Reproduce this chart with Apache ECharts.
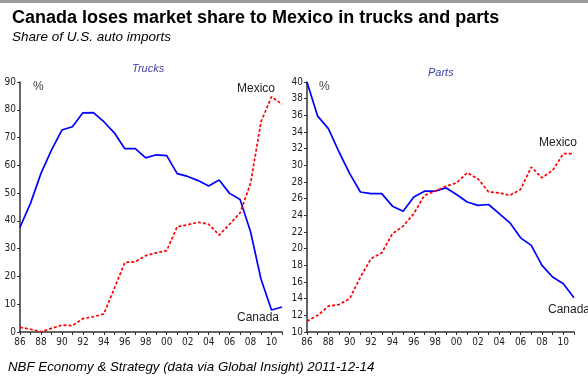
<!DOCTYPE html>
<html>
<head>
<meta charset="utf-8">
<script src="https://cdn.jsdelivr.net/npm/echarts@6/dist/echarts.min.js"></script>
<style>
  html, body { margin: 0; padding: 0; background: #fff; }
  #chart { width: 588px; height: 376px; }
</style>
</head>
<body>
<div id="chart"></div>
<script>
// Years 1986-2011, shown as two-digit labels
const years = ['86','87','88','89','90','91','92','93','94','95','96','97','98','99',
               '00','01','02','03','04','05','06','07','08','09','10','11'];

// Share of U.S. truck imports (%)
const trucksCanada = [37.7, 46.3, 57.1, 65.5, 72.7, 73.9, 78.9, 79.0, 75.7, 71.7, 66.0, 66.0, 62.7,
                      63.8, 63.5, 57.0, 56.0, 54.5, 52.6, 54.7, 49.9, 47.7, 36.1, 19.0, 7.9, 9.0];
const trucksMexico = [1.7, 1.0, 0.1, 1.3, 2.5, 2.3, 4.8, 5.5, 6.5, 15.7, 25.0, 25.3, 27.5,
                      28.5, 29.3, 37.9, 38.6, 39.5, 38.8, 34.9, 38.8, 42.9, 53.5, 75.7, 84.7, 82.0];

// Share of U.S. auto parts imports (%)
const partsCanada = [40.0, 35.9, 34.4, 31.6, 29.0, 26.8, 26.6, 26.6, 25.1, 24.5, 26.2, 26.9, 26.9,
                     27.3, 26.5, 25.6, 25.2, 25.3, 24.2, 23.1, 21.3, 20.4, 18.0, 16.6, 15.8, 14.1];
const partsMexico = [11.3, 12.0, 13.1, 13.3, 14.0, 16.6, 18.8, 19.5, 21.8, 22.7, 24.2, 26.4, 26.9,
                     27.5, 27.9, 29.1, 28.4, 26.8, 26.7, 26.4, 27.1, 29.8, 28.5, 29.4, 31.4, 31.4];

const tickFont = { fontFamily: 'Liberation Sans Narrow, DejaVu Sans Condensed, Liberation Sans, sans-serif', fontSize: 10, color: '#222' };
const axisLine = { show: true, lineStyle: { color: '#333', width: 1.5 } };

function xAxis(gridIndex) {
  return {
    type: 'category', gridIndex, data: years, boundaryGap: false,
    axisLine,
    axisTick: { show: true, interval: 0, length: 3, lineStyle: { color: '#333' } },
    axisLabel: Object.assign({ interval: 1, margin: 5 }, tickFont),
    splitLine: { show: false }
  };
}
function yAxis(gridIndex, min, max, interval) {
  return {
    type: 'value', gridIndex, min, max, interval,
    axisLine,
    axisTick: { show: true, length: 3, lineStyle: { color: '#333' } },
    axisLabel: Object.assign({ margin: 4 }, tickFont),
    splitLine: { show: false }
  };
}
function line(name, xi, data, color, dashed) {
  return {
    name, type: 'line', xAxisIndex: xi, yAxisIndex: xi, data,
    symbol: 'none', animation: false,
    lineStyle: { color, width: 1.7, type: dashed ? [3, 2] : 'solid' }
  };
}
function note(text, left, top, extra) {
  return { type: 'text', left, top, style: Object.assign({ text, fill: '#222', font: '12px Liberation Sans, Arial, sans-serif' }, extra || {}) };
}

const chart = echarts.init(document.getElementById('chart'), null, { renderer: 'canvas' });
chart.setOption({
  animation: false,
  backgroundColor: '#fff',
  grid: [
    { left: 20, top: 82, width: 262, height: 250 },
    { left: 307, top: 82, width: 267, height: 250 }
  ],
  xAxis: [xAxis(0), xAxis(1)],
  yAxis: [yAxis(0, 0, 90, 10), yAxis(1, 10, 40, 2)],
  series: [
    line('Canada', 0, trucksCanada, '#0000ff', false),
    line('Mexico', 0, trucksMexico, '#ff0000', true),
    line('Canada', 1, partsCanada, '#0000ff', false),
    line('Mexico', 1, partsMexico, '#ff0000', true)
  ],
  graphic: [
    { type: 'rect', left: 0, top: 0, shape: { width: 588, height: 3 }, style: { fill: '#999' } },
    { type: 'text', left: 12, top: 9, style: { text: 'Canada loses market share to Mexico in trucks and parts', fill: '#000', font: 'bold 18px Liberation Sans, Arial, sans-serif' } },
    { type: 'text', left: 12, top: 30, style: { text: 'Share of U.S. auto imports', fill: '#000', font: 'italic 13.5px Liberation Sans, Arial, sans-serif' } },
    { type: 'text', left: 132, top: 63, style: { text: 'Trucks', fill: '#4040a0', font: 'italic 11px Liberation Sans, Arial, sans-serif' } },
    { type: 'text', left: 428, top: 67, style: { text: 'Parts', fill: '#4040a0', font: 'italic 11px Liberation Sans, Arial, sans-serif' } },
    note('%', 33, 81, { fill: '#444' }),
    note('%', 319, 81, { fill: '#444' }),
    note('Mexico', 237, 83),
    note('Canada', 237, 312),
    note('Mexico', 539, 137),
    note('Canada', 548, 304),
    { type: 'text', left: 8, top: 361, style: { text: 'NBF Economy & Strategy (data via Global Insight) 2011-12-14', fill: '#000', font: 'italic 13.3px Liberation Sans, Arial, sans-serif' } }
  ]
});
</script>
</body>
</html>
